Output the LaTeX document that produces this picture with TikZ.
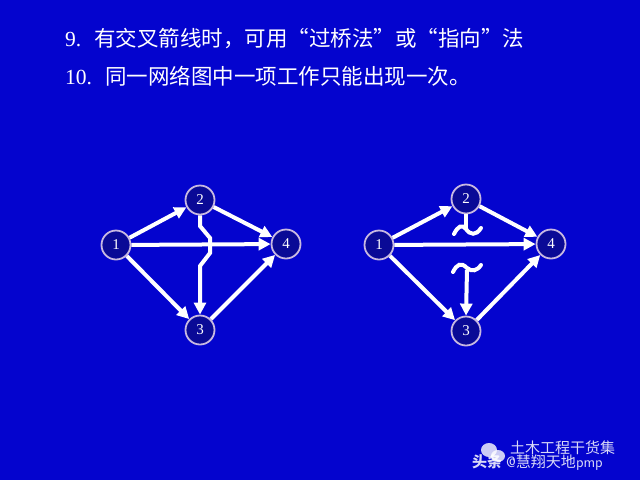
\documentclass[tikz,border=0pt]{standalone}
\usepackage{fontspec}
\setmainfont{Liberation Serif}
\newfontfamily\cjk{Noto Sans CJK SC}
\usetikzlibrary{arrows.meta}
\definecolor{bgblue}{RGB}{4,4,206}
\definecolor{nodeblue}{RGB}{10,10,150}
\definecolor{rimcol}{RGB}{200,185,225}
\tikzset{
  ev/.style={circle,draw=rimcol,line width=1.8pt,fill=nodeblue,minimum size=29pt,inner sep=0pt,text=white,font=\fontsize{15}{15}\selectfont},
  act/.style={draw=white,line width=4pt,-{Triangle[length=12pt,width=12pt]}},
  plainln/.style={draw=white,line width=4pt},
  title/.style={anchor=base west,text=white,inner sep=0pt,font=\fontsize{21.5}{21.5}\selectfont},
  wm/.style={anchor=base west,inner sep=0pt,text=white,opacity=0.85,font=\cjk\fontsize{15}{15}\selectfont}
}
\begin{document}
\begin{tikzpicture}[x=1pt,y=-1pt]
\fill[bgblue] (0,0) rectangle (640,480);
\useasboundingbox (0,0) rectangle (640,480);
% titles
\node[title] (t1) at (65,46) {9.\hspace{13pt}{\cjk 有交叉箭线时，可用“过桥法”或“指向”法}};
\node[title] (t2) at (65,84) {10.\hspace{13pt}{\cjk 同一网络图中一项工作只能出现一次。}};
% left diagram
\node[ev] (a1) at (116,245) {1};
\node[ev] (a2) at (200,200) {2};
\node[ev] (a3) at (200,330) {3};
\node[ev] (a4) at (286,244) {4};
\draw[act] (a1) -- (a2);
\draw[act] (a2) -- (a4);
\draw[act] (a1) -- (a4);
\draw[act] (a1) -- (a3);
\draw[act] (a3) -- (a4);
\coordinate (b1) at (200,226);
\coordinate (b2) at (210,238);
\coordinate (b3) at (210,253);
\coordinate (b4) at (200,266);
\draw[act] (a2.south) -- (b1) -- (b2) -- (b3) -- (b4) -- (a3.north);
% right diagram
\node[ev] (c1) at (379,245) {1};
\node[ev] (c2) at (466,199) {2};
\node[ev] (c3) at (466,331) {3};
\node[ev] (c4) at (551,244) {4};
\draw[act] (c1) -- (c2);
\draw[act] (c2) -- (c4);
\draw[act] (c1) -- (c4);
\draw[act] (c1) -- (c3);
\draw[act] (c3) -- (c4);
\coordinate (u1) at (466,229);
\draw[plainln] (c2.south) -- (u1);
\draw[plainln,line cap=round] (454,234) .. controls (458,226) and (462,224) .. (466,229) .. controls (470,235) and (476,236) .. (481,228);
\coordinate (l1) at (467,270);
\draw[plainln,line cap=round] (453,272) .. controls (457,264) and (461,262) .. (467,268) .. controls (472,272) and (477,271) .. (481,265);
\draw[act] (l1) -- (c3.north);
% watermark
\fill[white,opacity=0.8] (489,450) ellipse (8pt and 7pt);
\fill[white,opacity=0.8] (498,456) ellipse (7pt and 6pt);
\node[wm] (w1) at (510,453) {土木工程干货集};
\node[wm,font=\cjk\bfseries\fontsize{15}{15}\selectfont] (w2) at (472,467) {头条};
\node[wm,font=\fontsize{15}{15}\selectfont\sffamily] (w3) at (506,467) {@{\cjk 慧翔天地}pmp};
\end{tikzpicture}
\end{document}
